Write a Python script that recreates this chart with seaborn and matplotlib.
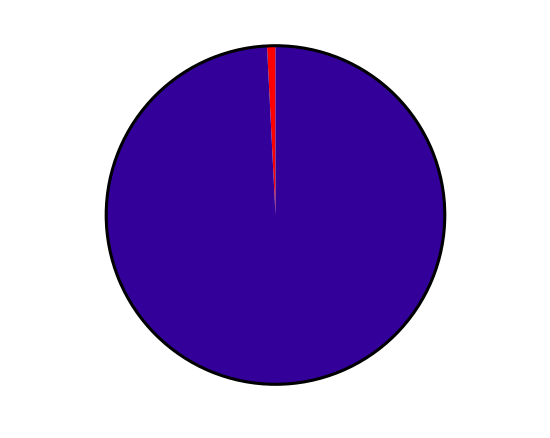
import seaborn as sns
import matplotlib.pyplot as plt

labels = ['Red', 'Blue']
shares = [0.8, 99.2]
colors = ['#ff0000', '#330099']

sns.set_style('white')

fig = plt.figure(figsize=(5.5, 4.38), dpi=100)
ax = fig.add_axes([0.19, 0.1187, 0.6218, 0.7808])

# the slices themselves, no edges between them
ax.pie(shares, colors=colors, startangle=90, counterclock=True,
       wedgeprops={'linewidth': 0})
# black outline round the whole pie
ax.pie([sum(shares)], colors=['none'], startangle=90,
       wedgeprops={'edgecolor': 'black', 'linewidth': 2.2, 'fill': False})

ax.set_xlim(-1.01, 1.01)
ax.set_ylim(-1.01, 1.01)
ax.set_axis_off()

fig.savefig('out.png', dpi=100)
